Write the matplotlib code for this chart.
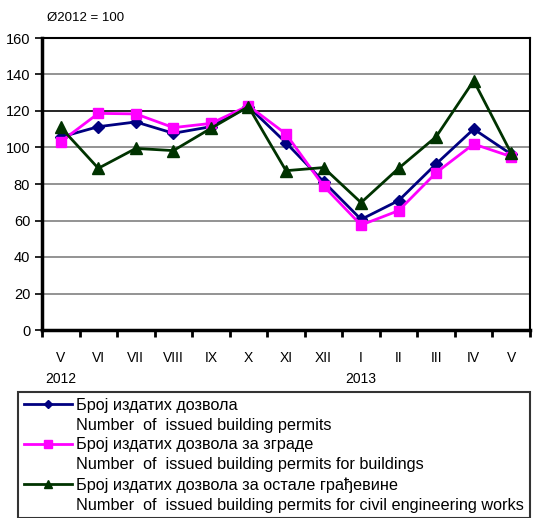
import matplotlib.pyplot as plt
import numpy as np
from matplotlib.lines import Line2D

plt.rcParams['font.family'] = ['Liberation Sans', 'DejaVu Sans']

months = ['V', 'VI', 'VII', 'VIII', 'IX', 'X', 'XI', 'XII', 'I', 'II', 'III', 'IV', 'V']
years = {0: '2012', 8: '2013'}
total = [105.7, 111.4, 114.0, 107.8, 111.4, 122.4, 102.6, 81.3, 60.6, 70.9, 91.0, 110.1, 96.3]
buildings = [103.2, 118.7, 118.4, 110.9, 113.2, 122.9, 107.4, 78.9, 57.5, 65.4, 86.2, 101.9, 95.0]
civil = [111.0, 88.6, 99.5, 98.3, 110.5, 122.4, 87.3, 89.0, 69.8, 88.6, 105.9, 136.6, 96.8]

labels_sr = ['Број издатих дозвола', 'Број издатих дозвола за зграде',
             'Број издатих дозвола за остале грађевине']
labels_en = ['Number  of  issued building permits',
             'Number  of  issued building permits for buildings',
             'Number  of  issued building permits for civil engineering works']

W, H = 539, 518
fig = plt.figure(figsize=(W / 100, H / 100), dpi=100)
ax = fig.add_axes([42 / W, 1 - 330 / H, 488 / W, 292 / H])

x = np.arange(len(months))
styles = [('#000080', 'D', 6), ('#FF00FF', 's', 7.5), ('#003300', '^', 8.5)]
leg_styles = [4.5, 5.5, 6]
handles = []
for ys, (c, m, ms), lms in zip([total, buildings, civil], styles, leg_styles):
    ax.plot(x, ys, color=c, marker=m, markersize=ms, lw=2, zorder=3)
    handles.append(Line2D([], [], color=c, marker=m, markersize=lms, lw=2))

ax.set_xlim(-0.5, len(months) - 0.5)
ax.set_ylim(0, 160)
ax.set_yticks(np.arange(0, 161, 20))
for v in range(20, 160, 20):
    ax.axhline(v, color='black' if v == 120 else '#808080', lw=1.2, zorder=1)

ax.set_xticks(x)
ax.set_xticklabels(months, fontsize=10)
ax.tick_params(axis='x', which='major', length=0, pad=15)
ax.set_xticks(np.arange(-0.5, len(months), 1), minor=True)
ax.tick_params(axis='x', which='minor', length=5, width=2, direction='out')
ax.tick_params(axis='y', length=5, width=1.2, labelsize=10.5)
for i, yr in years.items():
    ax.text(i, -0.145, yr, transform=ax.get_xaxis_transform(), ha='center', va='top', fontsize=10)

for s in ['left', 'bottom']:
    ax.spines[s].set_linewidth(2.5)
for s in ['top', 'right']:
    ax.spines[s].set_linewidth(1.5)

fig.text(47 / W, 1 - 18 / H, 'Ø2012 = 100', fontsize=9.5, va='center')

blank = Line2D([], [], linestyle='none')
leg_h, leg_l = [], []
for h, sr, en in zip(handles, labels_sr, labels_en):
    leg_h += [h, blank]
    leg_l += [sr, en]
leg = fig.legend(leg_h, leg_l, loc='upper left', bbox_to_anchor=(18 / W, 1 - 392 / H),
                 fontsize=11.7, frameon=True, fancybox=False, edgecolor='black',
                 handlelength=3.0, handletextpad=0.25, labelspacing=0.3,
                 borderpad=0.35, borderaxespad=0)
leg.get_frame().set_linewidth(1.5)

fig.savefig('out.png', dpi=100)
